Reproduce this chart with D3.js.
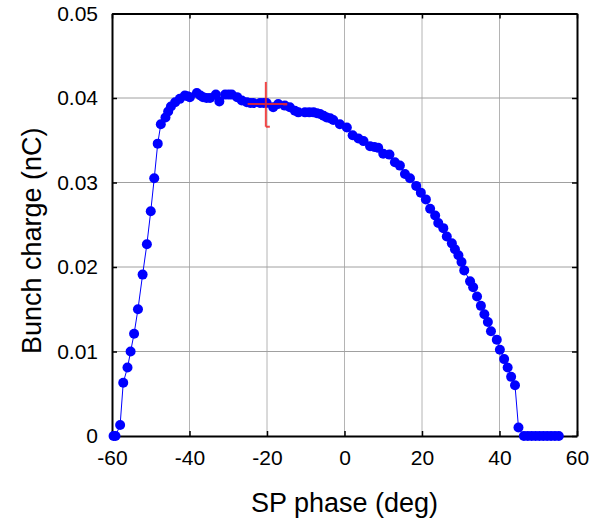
<!DOCTYPE html>
<html>
<head>
<meta charset="utf-8">
<script src="https://cdn.jsdelivr.net/npm/d3@7"></script>
<style>
  body { margin: 0; background: #fff; }
  svg { display: block; font-family: Arial, "Liberation Sans", sans-serif; }
</style>
</head>
<body>
<svg id="chart"></svg>
<script>
const phase = [
  -59.6, -59.1, -57.9, -57.1, -56.0, -55.2, -54.3, -53.3, -52.1, -51.0,
  -50.0, -49.1, -48.2, -47.4, -46.2, -45.5, -44.8, -43.7, -42.5, -41.2,
  -40.5, -39.9, -38.1, -37.2, -36.5, -35.6, -34.7, -33.2, -32.3, -30.8,
  -29.9, -29.1, -27.7, -26.5, -25.2, -24.3, -23.5, -21.8, -20.9, -20.1,
  -18.4, -17.1, -15.4, -14.1, -12.8, -11.9, -10.2, -9.1, -8.0, -7.1,
  -6.3, -5.4, -4.6, -3.7, -2.9, -1.2, 0.6, 2.1, 3.6, 4.9,
  6.6, 7.7, 8.7, 10.0, 11.6, 13.0, 14.3, 15.6, 16.9, 18.5,
  19.7, 21.0, 22.1, 23.4, 24.2, 25.5, 26.4, 27.7, 28.5, 29.4,
  30.2, 30.9, 32.4, 33.2, 34.2, 35.2, 36.1, 37.0, 37.8, 39.3,
  40.1, 41.2, 42.1, 43.0, 44.0, 44.9, 46.3, 47.3, 48.3, 49.3,
  50.3, 51.3, 52.3, 53.3, 54.3, 55.3
];
const charge = [
  0, 0, 0.0013, 0.0063, 0.0081, 0.0100, 0.0121, 0.0150, 0.0191, 0.0227,
  0.0266, 0.0305, 0.0346, 0.0369, 0.0377, 0.0384, 0.0390, 0.0395, 0.0399, 0.0403,
  0.0402, 0.0401, 0.0406, 0.0403, 0.0401, 0.0400, 0.0400, 0.0404, 0.0396, 0.0404,
  0.0404, 0.0404, 0.0401, 0.0397, 0.0395, 0.0394, 0.0394, 0.0394, 0.0394, 0.0394,
  0.0389, 0.0393, 0.0391, 0.0389, 0.0385, 0.0383, 0.0383, 0.0383, 0.0383, 0.0382,
  0.0381, 0.0379, 0.0377, 0.0376, 0.0374, 0.0369, 0.0365, 0.0356, 0.0352, 0.0349,
  0.0343, 0.0342, 0.0341, 0.0334, 0.0333, 0.0324, 0.0320, 0.0310, 0.0305, 0.0296,
  0.0288, 0.0280, 0.0269, 0.0261, 0.0252, 0.0246, 0.0236, 0.0228, 0.0221, 0.0214,
  0.0206, 0.0196, 0.0183, 0.0176, 0.0165, 0.0154, 0.0144, 0.0135, 0.0124, 0.0114,
  0.0102, 0.0091, 0.0081, 0.0070, 0.0060, 0.0010, 0, 0, 0, 0,
  0, 0, 0, 0, 0, 0
];

const xTicks = [-60, -40, -20, 0, 20, 40, 60];
const yTicks = [0, 0.01, 0.02, 0.03, 0.04, 0.05];

// error bar drawn in red near -20 deg
const errPoint = [-20.3, 0.0393];
const errYRange = [0.0366, 0.0419];
const errXRange = [-25, -14.8];

const width = 592;
const height = 522;
const plotLeft = 112, plotRight = 577, plotTop = 13.5, plotBottom = 436;

const svg = d3.select("#chart").attr("width", width).attr("height", height);

const xScale = d3.scaleLinear().domain([-60, 60]).range([plotLeft, plotRight]);
const yScale = d3.scaleLinear().domain([0, 0.05]).range([plotBottom, plotTop]);

// grid
svg.append("g")
  .selectAll("line")
  .data(xTicks.slice(1, -1))
  .enter()
  .append("line")
  .attr("x1", (d) => xScale(d))
  .attr("x2", (d) => xScale(d))
  .attr("y1", plotTop)
  .attr("y2", plotBottom)
  .attr("stroke", "#b4b4b4")
  .attr("stroke-width", 1);

svg.append("g")
  .selectAll("line")
  .data(yTicks.slice(1, -1))
  .enter()
  .append("line")
  .attr("x1", plotLeft)
  .attr("x2", plotRight)
  .attr("y1", (d) => yScale(d))
  .attr("y2", (d) => yScale(d))
  .attr("stroke", "#a0a0a0")
  .attr("stroke-width", 1);

// axes with inward ticks on all four sides
const fmtX = (d) => String(d);
const fmtY = (d) => (d === 0 ? "0" : d3.format(".2f")(d));

const xAxis = d3.axisBottom(xScale).tickValues(xTicks).tickSizeInner(-5).tickSizeOuter(0).tickPadding(14).tickFormat(fmtX);
const yAxis = d3.axisLeft(yScale).tickValues(yTicks).tickSizeInner(-5).tickSizeOuter(0).tickPadding(14).tickFormat(fmtY);
const xTop = d3.axisTop(xScale).tickValues(xTicks).tickSizeInner(-5).tickSizeOuter(0).tickFormat("");
const yRight = d3.axisRight(yScale).tickValues(yTicks).tickSizeInner(-5).tickSizeOuter(0).tickFormat("");

const styleAxis = (g) => {
  g.select(".domain").attr("stroke", "#000").attr("stroke-width", 2);
  g.selectAll(".tick line").attr("stroke", "#000").attr("stroke-width", 1.5);
  g.selectAll("text").attr("font-size", 21).attr("fill", "#000")
    .attr("font-family", "Arial, 'Liberation Sans', sans-serif");
};

svg.append("g").attr("transform", `translate(0, ${plotBottom})`).call(xAxis).call(styleAxis);
svg.append("g").attr("transform", `translate(${plotLeft}, 0)`).call(yAxis).call(styleAxis);
svg.append("g").attr("transform", `translate(0, ${plotTop})`).call(xTop).call(styleAxis);
svg.append("g").attr("transform", `translate(${plotRight}, 0)`).call(yRight).call(styleAxis);

// axis labels
svg.append("text")
  .attr("x", (plotLeft + plotRight) / 2)
  .attr("y", 512)
  .attr("text-anchor", "middle")
  .attr("font-size", 27)
  .text("SP phase (deg)");

svg.append("text")
  .attr("transform", `translate(41, ${(plotTop + plotBottom) / 2 + 16}) rotate(-90)`)
  .attr("text-anchor", "middle")
  .attr("font-size", 27)
  .text("Bunch charge (nC)");

// data line and markers
const points = phase.map((p, i) => [p, charge[i]]);

const line = d3.line()
  .x((d) => xScale(d[0]))
  .y((d) => yScale(d[1]));

svg.append("path")
  .datum(points)
  .attr("fill", "none")
  .attr("stroke", "#0000ff")
  .attr("stroke-width", 1)
  .attr("d", line);

svg.append("g")
  .selectAll("circle")
  .data(points)
  .enter()
  .append("circle")
  .attr("cx", (d) => xScale(d[0]))
  .attr("cy", (d) => yScale(d[1]))
  .attr("r", 5)
  .attr("fill", "#0000ff");

// red error bar
const err = svg.append("g").attr("stroke", "#f02828").attr("stroke-width", 2).attr("opacity", 0.85);
err.append("line")
  .attr("x1", xScale(errPoint[0])).attr("x2", xScale(errPoint[0]))
  .attr("y1", yScale(errYRange[1])).attr("y2", yScale(errYRange[0]));
err.append("line")
  .attr("x1", xScale(errXRange[0])).attr("x2", xScale(errXRange[1]))
  .attr("y1", yScale(errPoint[1])).attr("y2", yScale(errPoint[1]));
err.append("line")
  .attr("x1", xScale(errPoint[0])).attr("x2", xScale(errPoint[0]) + 4)
  .attr("y1", yScale(errYRange[0])).attr("y2", yScale(errYRange[0]));
err.append("line")
  .attr("x1", xScale(errXRange[1]) - 4).attr("x2", xScale(errXRange[1]))
  .attr("y1", yScale(errPoint[1]) + 0.5).attr("y2", yScale(errPoint[1]) + 0.5);
</script>
</body>
</html>
